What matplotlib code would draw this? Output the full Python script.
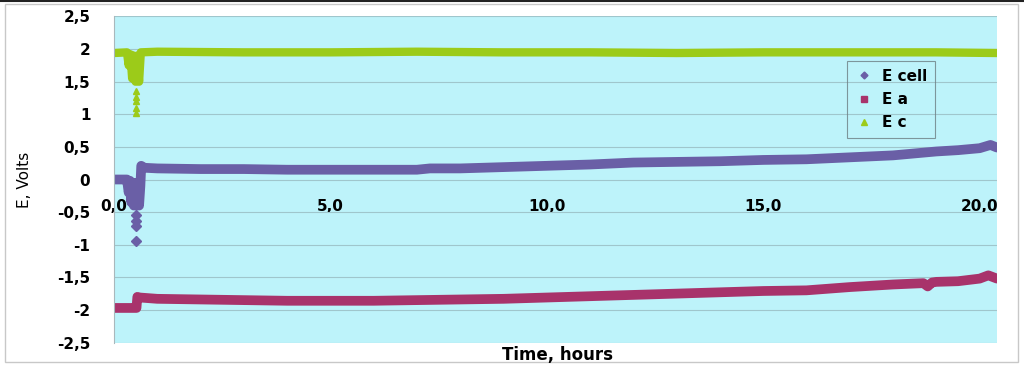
import matplotlib
matplotlib.use("Agg")
import matplotlib.pyplot as plt
from matplotlib.lines import Line2D
from matplotlib.patches import Rectangle

plt.rcParams["font.family"] = ["DejaVu Sans"]

# E cell
t_cell = [0.0, 0.2, 0.3, 0.34, 0.37, 0.40, 0.43, 0.46, 0.49, 0.52, 0.55, 0.58,
          0.61, 0.63, 0.7, 1.0, 2.0, 3.0, 4.0, 5.0, 6.0, 7.0, 7.3, 8.0, 9.0, 10.0,
          11.0, 12.0, 13.0, 14.0, 15.0, 16.0, 17.0, 18.0, 18.5, 19.0, 19.5, 20.0,
          20.25, 20.4]
e_cell = [0.0, 0.0, 0.0, -0.2, -0.02, -0.35, -0.05, -0.4, -0.05, -0.4, -0.05, -0.4,
          -0.1, 0.21, 0.18, 0.17, 0.16, 0.16, 0.15, 0.15, 0.15, 0.15, 0.17, 0.17,
          0.19, 0.21, 0.23, 0.26, 0.27, 0.28, 0.30, 0.31, 0.34, 0.37, 0.40, 0.43,
          0.45, 0.48, 0.53, 0.49]
t_cell_pts = [0.5, 0.5, 0.52, 0.52]
e_cell_pts = [-0.55, -0.63, -0.71, -0.95]

# E a
t_a = [0.0, 0.2, 0.4, 0.52, 0.54, 0.6, 1.0, 2.0, 3.0, 4.0, 5.0, 6.0, 7.0, 8.0,
       9.0, 10.0, 11.0, 12.0, 13.0, 14.0, 15.0, 16.0, 17.0, 18.0, 18.7, 18.8,
       18.9, 19.0, 19.5, 20.0, 20.2, 20.4]
e_a = [-1.97, -1.97, -1.97, -1.97, -1.8, -1.81, -1.83, -1.84, -1.85, -1.86, -1.86,
       -1.86, -1.85, -1.84, -1.83, -1.81, -1.79, -1.77, -1.75, -1.73, -1.71, -1.70,
       -1.65, -1.61, -1.59, -1.64, -1.58, -1.57, -1.56, -1.52, -1.47, -1.52]

# E c
t_c = [0.0, 0.3, 0.34, 0.38, 0.42, 0.46, 0.50, 0.54, 0.58, 0.62, 1.0, 3.0, 5.0,
       7.0, 9.0, 11.0, 13.0, 15.0, 17.0, 19.0, 20.4]
e_c = [1.94, 1.95, 1.75, 1.92, 1.55, 1.9, 1.5, 1.9, 1.5, 1.95, 1.96, 1.95, 1.95,
       1.96, 1.95, 1.95, 1.94, 1.95, 1.95, 1.95, 1.94]
t_c_pts = [0.52, 0.52, 0.52, 0.52, 0.52]
e_c_pts = [1.35, 1.27, 1.2, 1.1, 1.02]

x_ticks = [0, 5, 10, 15, 20]
y_ticks = [-2.5, -2, -1.5, -1, -0.5, 0, 0.5, 1, 1.5, 2, 2.5]

c_cell = "#6A5FA6"
c_a = "#A8336B"
c_c = "#9CCB19"


def comma(v, dec):
    s = f"{v:.{dec}f}" if dec else f"{v:g}"
    return s.replace(".", ",")


fig = plt.figure(figsize=(10.24, 3.69), dpi=100)
ax = fig.add_axes([0.1113, 0.0718, 0.8623, 0.8835])
ax.set_facecolor("#BDF3FA")

ax.plot(t_c, e_c, color=c_c, lw=6, solid_joinstyle="round", solid_capstyle="round")
ax.plot(t_c_pts, e_c_pts, ls="none", marker="^", ms=5, color=c_c)
ax.plot(t_cell, e_cell, color=c_cell, lw=7, solid_joinstyle="round", solid_capstyle="round")
ax.plot(t_cell_pts, e_cell_pts, ls="none", marker="D", ms=5, color=c_cell)
ax.plot(t_a, e_a, color=c_a, lw=7, solid_joinstyle="round", solid_capstyle="round")

ax.set_xlim(0, 20.4)
ax.set_ylim(-2.5, 2.5)
ax.set_yticks(y_ticks)
ax.set_yticklabels([comma(v, 0) for v in y_ticks])
ax.set_xticks(x_ticks)
ax.set_xticklabels([comma(v, 1) for v in x_ticks])
ax.yaxis.grid(True, color="#9FC6CC", lw=0.8)
ax.set_axisbelow(True)

for s in ["top", "right"]:
    ax.spines[s].set_visible(False)
ax.spines["bottom"].set_position(("data", 0))
ax.spines["bottom"].set_visible(False)
ax.spines["left"].set_color("#A9B8BC")
ax.tick_params(axis="x", length=0, pad=14, labelsize=11)
ax.tick_params(axis="y", length=0, pad=17, labelsize=11)
for lab in ax.get_xticklabels() + ax.get_yticklabels():
    lab.set_fontweight("bold")

ax.set_ylabel("E, Volts", fontsize=11)
ax.yaxis.set_label_coords(-0.093, 0.5)
fig.text(0.544, 0.038, "Time, hours", ha="center", va="center",
         fontsize=12, fontweight="bold")

handles = [
    Line2D([], [], ls="none", marker="D", ms=3.5, color=c_cell),
    Line2D([], [], ls="none", marker="s", ms=4, color=c_a),
    Line2D([], [], ls="none", marker="^", ms=4, color=c_c),
]
leg = ax.legend(handles, ["E cell", "E a", "E c"], loc="upper left",
                bbox_to_anchor=(0.830, 0.8635), frameon=True, fancybox=False,
                edgecolor="#6E7F84", prop={"weight": "bold", "size": 11},
                handlelength=1.3, handletextpad=0.5, labelspacing=0.55,
                borderpad=0.5, borderaxespad=0)
leg.get_frame().set_facecolor("none")
leg.get_frame().set_linewidth(0.8)

fig.patches.append(Rectangle((0.005, 0.02), 0.989, 0.97, transform=fig.transFigure,
                             fill=False, edgecolor="#C8C8C8", lw=1))
fig.add_artist(Line2D([0, 1], [0.998, 0.998], transform=fig.transFigure,
                      color="#222222", lw=1.5))

plt.savefig("out.png", dpi=100)
plt.close()
